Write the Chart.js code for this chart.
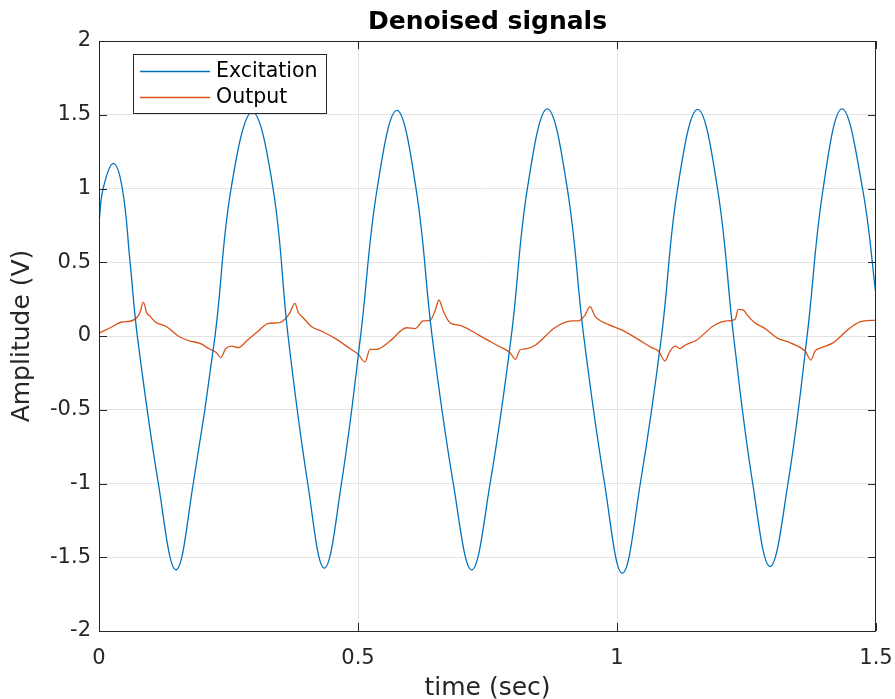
<!DOCTYPE html>
<html>
<head>
<meta charset="utf-8">
<script src="https://cdn.jsdelivr.net/npm/chart.js@4.4.1/dist/chart.umd.min.js"></script>
<style>
  body { margin: 0; background: #fff; }
  #wrap { width: 895px; height: 699px; }
</style>
</head>
<body>
<div id="wrap"><canvas id="sigChart" width="895" height="699"></canvas></div>
<script>
// values
const excitationTime = [0, 0.008, 0.0277, 0.045, 0.06, 0.074,
  0.1146, 0.1486, 0.182, 0.224,
  0.255, 0.296, 0.336, 0.365,
  0.403, 0.435, 0.468, 0.505,
  0.537, 0.575, 0.612, 0.643,
  0.684, 0.7195, 0.755, 0.796,
  0.827, 0.8655, 0.904, 0.9357,
  0.976, 1.0103, 1.045, 1.086,
  1.117, 1.1557, 1.194, 1.225,
  1.262, 1.2954, 1.33, 1.367,
  1.398, 1.4344, 1.474, 1.5];
const excitationVolts = [0.77, 1.0, 1.17, 1.0, 0.5, 0,
  -1, -1.585, -1, 0,
  1, 1.52, 1, 0,
  -1, -1.574, -1, 0,
  1, 1.53, 1, 0,
  -1, -1.585, -1, 0,
  1, 1.54, 1, 0,
  -1, -1.608, -1, 0,
  1, 1.536, 1, 0,
  -1, -1.563, -1, 0,
  1, 1.54, 1, 0.278];

const outputTime = [0, 0.0245, 0.0437, 0.06, 0.0727, 0.079, 0.0856, 0.092, 0.0985, 0.108, 0.1306, 0.153, 0.1757, 0.195,
  0.2143, 0.227, 0.235, 0.2445, 0.256, 0.269, 0.288, 0.3076, 0.327, 0.349, 0.359, 0.3687, 0.378, 0.385, 0.394, 0.4106,
  0.433, 0.4589, 0.4846, 0.5006, 0.5135, 0.523, 0.536, 0.5618, 0.594, 0.61, 0.626, 0.639, 0.6486, 0.6564, 0.6647,
  0.6776, 0.697, 0.716, 0.745, 0.771, 0.7934, 0.804, 0.8127, 0.8257, 0.842, 0.88, 0.9125, 0.925, 0.938, 0.948, 0.9575,
  0.983, 1.009, 1.041, 1.067, 1.08, 1.0927, 1.1023, 1.112, 1.1216, 1.1313, 1.154, 1.186, 1.2118, 1.228, 1.234, 1.244,
  1.2504, 1.266, 1.286, 1.308, 1.337, 1.363, 1.3745, 1.3822, 1.395, 1.4176, 1.4466, 1.469, 1.5];
const outputVolts = [0.02, 0.061, 0.095, 0.1, 0.124, 0.158, 0.23, 0.158, 0.135, 0.097, 0.063, 0, -0.034, -0.05,
  -0.09, -0.113, -0.147, -0.086, -0.068, -0.079, -0.023, 0.034, 0.086, 0.09, 0.113, 0.158, 0.221, 0.158, 0.124, 0.063,
  0.027, -0.023, -0.086, -0.124, -0.176, -0.09, -0.09, -0.034, 0.056, 0.05, 0.102, 0.106, 0.169, 0.244, 0.169,
  0.09, 0.072, 0.041, -0.018, -0.068, -0.113, -0.158, -0.095, -0.086, -0.063, 0.056, 0.102, 0.102, 0.14, 0.199, 0.135,
  0.079, 0.041, -0.023, -0.079, -0.102, -0.169, -0.102, -0.068, -0.086, -0.063, -0.027, 0.068, 0.102, 0.113, 0.181, 0.176,
  0.147, 0.09, 0.05, -0.011, -0.05, -0.102, -0.163, -0.102, -0.079, -0.045, 0.045, 0.095, 0.108];

const xTicks = [0, 0.5, 1, 1.5];
const yTicks = [-2, -1.5, -1, -0.5, 0, 0.5, 1, 1.5, 2];

const toPoints = (xs, ys) => xs.map((x, i) => ({ x: x, y: ys[i] }));

const FONT = "'DejaVu Sans', sans-serif";
const INK = "#262626";

// title, box, inward ticks and legend, matlab style
const matlabFrame = {
  id: "matlabFrame",
  afterDraw(chart) {
    const { ctx, chartArea: a, scales } = chart;
    ctx.save();
    ctx.strokeStyle = INK;
    ctx.lineWidth = 1;
    ctx.strokeRect(a.left + 0.5, a.top + 0.5, a.right - a.left - 1, a.bottom - a.top);
    const len = 8;
    ctx.beginPath();
    xTicks.forEach(v => {
      const px = Math.round(scales.x.getPixelForValue(v)) + 0.5;
      ctx.moveTo(px, a.bottom); ctx.lineTo(px, a.bottom - len);
      ctx.moveTo(px, a.top); ctx.lineTo(px, a.top + len);
    });
    yTicks.forEach(v => {
      const py = Math.round(scales.y.getPixelForValue(v)) + 0.5;
      ctx.moveTo(a.left, py); ctx.lineTo(a.left + len, py);
      ctx.moveTo(a.right, py); ctx.lineTo(a.right - len, py);
    });
    ctx.stroke();

    // title
    ctx.fillStyle = "#000";
    ctx.font = "bold 25px " + FONT;
    ctx.textAlign = "center";
    ctx.textBaseline = "middle";
    ctx.fillText("Denoised signals", (a.left + a.right) / 2, 22);

    // legend
    const lx = 133, ly = 54, lw = 193, lh = 59;
    ctx.fillStyle = "#fff";
    ctx.fillRect(lx, ly, lw, lh);
    ctx.strokeStyle = INK;
    ctx.strokeRect(lx + 0.5, ly + 0.5, lw, lh);
    ctx.font = "20.5px " + FONT;
    ctx.textAlign = "left";
    chart.data.datasets.forEach((ds, i) => {
      const cy = ly + 17 + i * 26;
      ctx.strokeStyle = ds.borderColor;
      ctx.lineWidth = 1.3;
      ctx.beginPath();
      ctx.moveTo(lx + 7, cy + 0.5); ctx.lineTo(lx + 77, cy + 0.5);
      ctx.stroke();
      ctx.fillStyle = "#000";
      ctx.fillText(ds.label, lx + 83, cy + 1);
    });
    ctx.restore();
  }
};

new Chart(document.getElementById("sigChart").getContext("2d"), {
  type: "line",
  data: {
    datasets: [
      {
        label: "Excitation",
        data: toPoints(excitationTime, excitationVolts),
        borderColor: "#0072BD",
        borderWidth: 1.3,
        pointRadius: 0,
        tension: 0.4,
      },
      {
        label: "Output",
        data: toPoints(outputTime, outputVolts),
        borderColor: "#D95319",
        borderWidth: 1.3,
        pointRadius: 0,
        cubicInterpolationMode: "monotone",
      },
    ],
  },
  options: {
    responsive: false,
    animation: false,
    layout: { padding: { top: 41, right: 19, left: 0, bottom: 0 } },
    plugins: { legend: { display: false }, tooltip: { enabled: false } },
    scales: {
      x: {
        type: "linear",
        min: 0,
        max: 1.5,
        afterFit: s => { s.height = 68; s.paddingLeft = 0; s.paddingRight = 0; },
        afterBuildTicks: s => { s.ticks = xTicks.map(v => ({ value: v })); },
        grid: {
          color: c => (c.tick && (c.tick.value === 0 || c.tick.value === 1.5)) ? "rgba(0,0,0,0)" : "#e3e3e3",
          drawTicks: false,
        },
        border: { display: false },
        ticks: { padding: 15, color: INK, font: { family: FONT, size: 21 }, callback: v => String(v), maxRotation: 0 },
        title: { display: true, text: "time (sec)", color: INK, font: { family: FONT, size: 25, lineHeight: 1 }, padding: { top: 0, bottom: -2 } },
      },
      y: {
        type: "linear",
        min: -2,
        max: 2,
        afterFit: s => { s.width = 99; s.paddingTop = 0; s.paddingBottom = 0; },
        afterBuildTicks: s => { s.ticks = yTicks.map(v => ({ value: v })); },
        grid: {
          color: c => (c.tick && (c.tick.value === -2 || c.tick.value === 2)) ? "rgba(0,0,0,0)" : "#e3e3e3",
          drawTicks: false,
        },
        border: { display: false },
        ticks: { padding: 8, color: INK, font: { family: FONT, size: 21 }, callback: v => String(v) },
        title: { display: true, text: "Amplitude (V)", color: INK, font: { family: FONT, size: 25, lineHeight: 1 }, padding: { top: 10, bottom: 0 } },
      },
    },
  },
  plugins: [matlabFrame],
});
</script>
</body>
</html>
